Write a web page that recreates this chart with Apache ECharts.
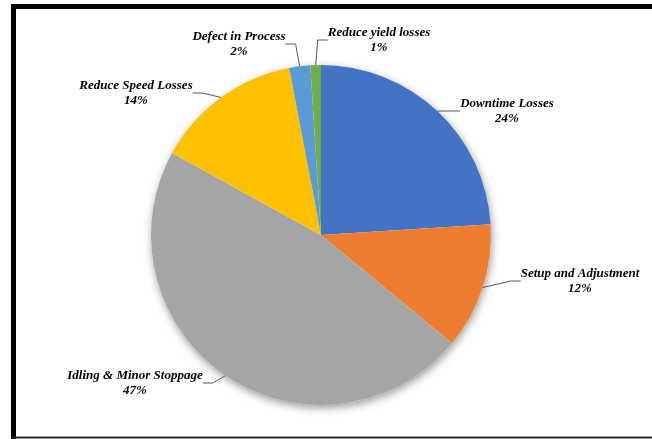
<!DOCTYPE html>
<html>
<head>
<meta charset="utf-8">
<script src="https://cdn.jsdelivr.net/npm/echarts@6/dist/echarts.min.js"></script>
<style>
  html, body { margin: 0; padding: 0; background: #fff; }
  #chart { width: 652px; height: 439px; }
</style>
</head>
<body>
<div id="chart"></div>
<script>
// Loss categories, clockwise from 12 o'clock
const categories = [
  'Downtime Losses',
  'Setup and Adjustment',
  'Idling & Minor Stoppage',
  'Reduce Speed Losses',
  'Defect in Process',
  'Reduce yield losses'
];
// Share of each loss, in percent
const shares = [24, 12, 47, 14, 2, 1];

const sliceColors = ['#4472C4', '#ED7D31', '#A5A5A5', '#FFC000', '#5B9BD5', '#70AD47'];

// Where each two-line label block is centred (px)
const labelAnchors = [
  [507, 111],
  [580, 281],
  [135, 383],
  [136, 93],
  [239, 44],
  [379, 40]
];

const pieCenter = [321, 235];
const pieRadius = 170;

const chart = echarts.init(document.getElementById('chart'), null, { renderer: 'canvas' });

chart.setOption({
  backgroundColor: '#ffffff',
  animation: false,
  graphic: [
    { type: 'line', shape: { x1: 11, y1: 6.5, x2: 652, y2: 6.5 }, style: { stroke: '#000', lineWidth: 5 } },
    { type: 'line', shape: { x1: 13.5, y1: 4, x2: 13.5, y2: 439 }, style: { stroke: '#000', lineWidth: 5 } },
    { type: 'line', shape: { x1: 11, y1: 437.5, x2: 652, y2: 437.5 }, style: { stroke: '#2a2a2a', lineWidth: 2 } }
  ],
  series: [
    {
      // soft drop shadow under the whole disc
      type: 'pie',
      silent: true,
      z: 1,
      center: pieCenter,
      radius: pieRadius,
      label: { show: false },
      labelLine: { show: false },
      itemStyle: {
        color: '#ffffff',
        shadowBlur: 9,
        shadowColor: 'rgba(0,0,0,0.4)',
        shadowOffsetX: 1,
        shadowOffsetY: 3
      },
      data: [{ value: 1, name: '' }]
    },
    {
      type: 'pie',
      z: 2,
      center: pieCenter,
      radius: pieRadius,
      startAngle: 90,
      clockwise: true,
      avoidLabelOverlap: false,
      itemStyle: { borderWidth: 0 },
      label: {
        show: true,
        formatter: '{b}\n{c}%',
        fontFamily: '"Liberation Serif", "Times New Roman", serif',
        fontStyle: 'italic',
        fontWeight: 'bold',
        fontSize: 13,
        lineHeight: 15,
        color: '#000',
        align: 'center'
      },
      labelLine: {
        show: true,
        length: 10,
        length2: 10,
        lineStyle: { color: '#595959', width: 1 }
      },
      labelLayout: function (params) {
        const p = labelAnchors[params.dataIndex];
        return { x: p[0], y: p[1], align: 'center', verticalAlign: 'middle' };
      },
      emphasis: { disabled: true },
      data: categories.map(function (name, i) {
        return { name: name, value: shares[i], itemStyle: { color: sliceColors[i] } };
      })
    }
  ]
});
</script>
</body>
</html>
